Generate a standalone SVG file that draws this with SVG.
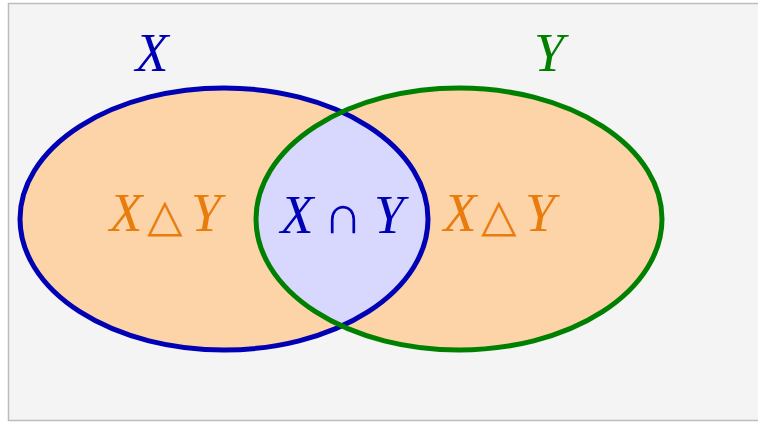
<svg xmlns="http://www.w3.org/2000/svg" width="758" height="424" viewBox="0 0 758 424">
<style>
.lbl{font-family:"Liberation Serif","DejaVu Serif",serif;font-style:italic;font-size:54px;text-anchor:middle}
.sym{font-family:"DejaVu Sans","Liberation Serif",sans-serif;font-style:normal;font-size:46px}
.cap{font-family:"Liberation Serif","DejaVu Serif",serif;font-style:normal;font-size:54px}
</style>
<defs>
<clipPath id="clipX"><ellipse cx="224" cy="219" rx="204" ry="131"/></clipPath>
</defs>
<rect x="8.5" y="3.5" width="760" height="417" fill="#f4f4f4" stroke="#bdbdbd" stroke-width="1.5"/>
<g id="fills">
<ellipse cx="224" cy="219" rx="204" ry="131" fill="#fdd3a8"/>
<ellipse cx="459" cy="219" rx="203" ry="131" fill="#fdd3a8"/>
<ellipse cx="459" cy="219" rx="203" ry="131" fill="#d8d8ff" clip-path="url(#clipX)"/>
</g>
<g id="setX">
<ellipse cx="224" cy="219" rx="204" ry="131" fill="none" stroke="#0000b4" stroke-width="5"/>
<text class="lbl" x="152" y="71" fill="#0000b4">X</text>
</g>
<g id="setY">
<ellipse cx="459" cy="219" rx="203" ry="131" fill="none" stroke="#008000" stroke-width="5"/>
<text class="lbl" x="549" y="71" fill="#008000">Y</text>
</g>
<g id="regions">
<text class="lbl" y="231" fill="#e87c0c"><tspan x="126">X</tspan><tspan class="sym" x="165">△</tspan><tspan x="206">Y</tspan></text>
<text class="lbl" y="233" fill="#0000b4"><tspan x="297">X</tspan><tspan class="cap" x="343">∩</tspan><tspan x="389">Y</tspan></text>
<text class="lbl" y="231" fill="#e87c0c"><tspan x="460">X</tspan><tspan class="sym" x="499">△</tspan><tspan x="540">Y</tspan></text>
</g>
</svg>
